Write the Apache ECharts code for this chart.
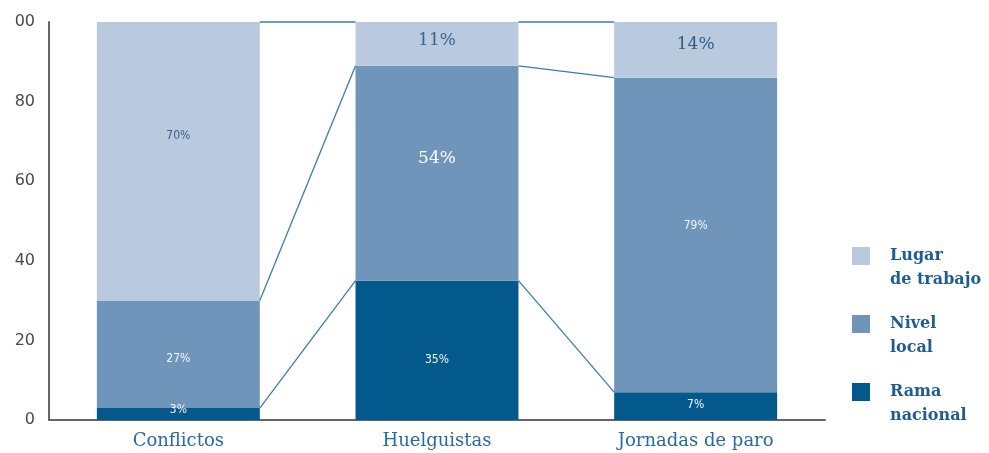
<!DOCTYPE html>
<html>
<head>
<meta charset="utf-8">
<style>
  html, body { margin: 0; padding: 0; background: #fff; }
  #chart { width: 989px; height: 453px; }
</style>
<script src="https://cdn.jsdelivr.net/npm/echarts@6/dist/echarts.min.js"></script>
</head>
<body>
<div id="chart"></div>
<script>
// Distribution of conflicts, strikers and strike days by bargaining level (%)
const categories = ['Conflictos', 'Huelguistas', 'Jornadas de paro'];
const ramaNacional = [3, 35, 7];
const nivelLocal = [27, 54, 79];
const lugarTrabajo = [70, 11, 14];
const yTickValues = [0, 20, 40, 60, 80, 100];
const yTickLabels = ['0', '20', '40', '60', '80', '00'];

const seriesNames = ['Rama nacional', 'Nivel local', 'Lugar de trabajo'];
const colors = ['#03598b', '#6f95bb', '#b9cadf'];
const BAR_RATIO = 0.63;

const smallFont = "'DejaVu Sans Condensed', 'Liberation Sans Narrow', 'Liberation Sans', sans-serif";
const serifFont = "'DejaVu Serif', 'Liberation Serif', serif";

// label look for each segment (series order: rama, nivel, lugar)
const labelStyles = [
  [
    { fontFamily: smallFont, fontSize: 12, color: '#f2f6fa', offset: [0, -4] },
    { fontFamily: smallFont, fontSize: 12, color: '#f2f6fa', offset: [0, 10] },
    { fontFamily: smallFont, fontSize: 12, color: '#f2f6fa', offset: [0, -1] }
  ],
  [
    { fontFamily: smallFont, fontSize: 12, color: '#f2f6fa', offset: [0, 5] },
    { fontFamily: serifFont, fontSize: 17, color: '#ffffff', offset: [0, -15] },
    { fontFamily: smallFont, fontSize: 12, color: '#f2f6fa', offset: [0, -9] }
  ],
  [
    { fontFamily: smallFont, fontSize: 12, color: '#3f5f86', offset: [0, -25] },
    { fontFamily: serifFont, fontSize: 17, color: '#36648f', offset: [0, -3] },
    { fontFamily: serifFont, fontSize: 17, color: '#2d5d8a', offset: [0, -5] }
  ]
];

const valueSets = [ramaNacional, nivelLocal, lugarTrabajo];

const barSeries = valueSets.map((vals, s) => ({
  name: seriesNames[s],
  type: 'bar',
  stack: 'total',
  barWidth: (BAR_RATIO * 100) + '%',
  itemStyle: { color: colors[s] },
  z: 2,
  data: vals.map((v, i) => ({
    value: v,
    label: Object.assign({ show: true, position: 'inside', formatter: '{c}%' }, labelStyles[s][i])
  }))
}));

// cumulative top of each stacked segment per category
const tops = categories.map((c, i) => {
  const a = ramaNacional[i];
  const b = a + nivelLocal[i];
  const t = b + lugarTrabajo[i];
  return [a, b, t];
});

// series lines joining segment tops of neighbouring bars
const linkData = [];
for (let i = 0; i < categories.length - 1; i++) {
  linkData.push([i].concat(tops[i], tops[i + 1]));
}

const linkSeries = {
  type: 'custom',
  silent: true,
  z: 3,
  encode: { x: 0, y: [1, 2, 3, 4, 5, 6] },
  data: linkData,
  renderItem: function (params, api) {
    const i = api.value(0);
    const band = api.size([1, 0])[0];
    const hw = band * BAR_RATIO / 2;
    const children = [];
    for (let k = 0; k < 3; k++) {
      const p0 = api.coord([i, api.value(1 + k)]);
      const p1 = api.coord([i + 1, api.value(4 + k)]);
      children.push({
        type: 'line',
        shape: { x1: p0[0] + hw, y1: p0[1], x2: p1[0] - hw, y2: p1[1] },
        style: { stroke: '#3a7ea8', lineWidth: 1.3 }
      });
    }
    return { type: 'group', children: children };
  }
};

const chart = echarts.init(document.getElementById('chart'), null, { renderer: 'canvas' });
chart.setOption({
  animation: false,
  backgroundColor: '#ffffff',
  grid: { left: 49, right: 164, top: 22, bottom: 33, containLabel: false },
  legend: {
    orient: 'vertical',
    left: 852,
    top: 220,
    padding: 0,
    itemWidth: 18,
    itemHeight: 18,
    itemGap: -4,
    icon: 'rect',
    selectedMode: false,
    data: ['Lugar de trabajo', 'Nivel local', 'Rama nacional'],
    // leading blank line keeps the first word level with the swatch
    formatter: function (name) { return '\n' + name.replace(' ', '\n'); },
    textStyle: {
      fontFamily: serifFont,
      fontWeight: 'bold',
      fontSize: 16,
      color: '#1f5d8e',
      lineHeight: 24,
      padding: [0, 0, 0, 15]
    }
  },
  xAxis: {
    type: 'category',
    data: categories,
    axisLine: { lineStyle: { color: '#666666', width: 2 } },
    axisTick: { show: false },
    axisLabel: {
      margin: 12,
      fontFamily: serifFont,
      fontSize: 18,
      color: '#2a6aa0'
    }
  },
  yAxis: {
    type: 'value',
    min: 0,
    max: 100,
    interval: 20,
    splitLine: { show: false },
    axisTick: { show: false },
    axisLine: { show: true, lineStyle: { color: '#666666', width: 2 } },
    axisLabel: {
      margin: 14,
      fontFamily: "'DejaVu Sans', sans-serif",
      fontSize: 16,
      color: '#4a4a4a',
      formatter: function (v) {
        const idx = yTickValues.indexOf(v);
        return idx >= 0 ? yTickLabels[idx] : '';
      }
    }
  },
  series: barSeries.concat([linkSeries])
});
</script>
</body>
</html>
